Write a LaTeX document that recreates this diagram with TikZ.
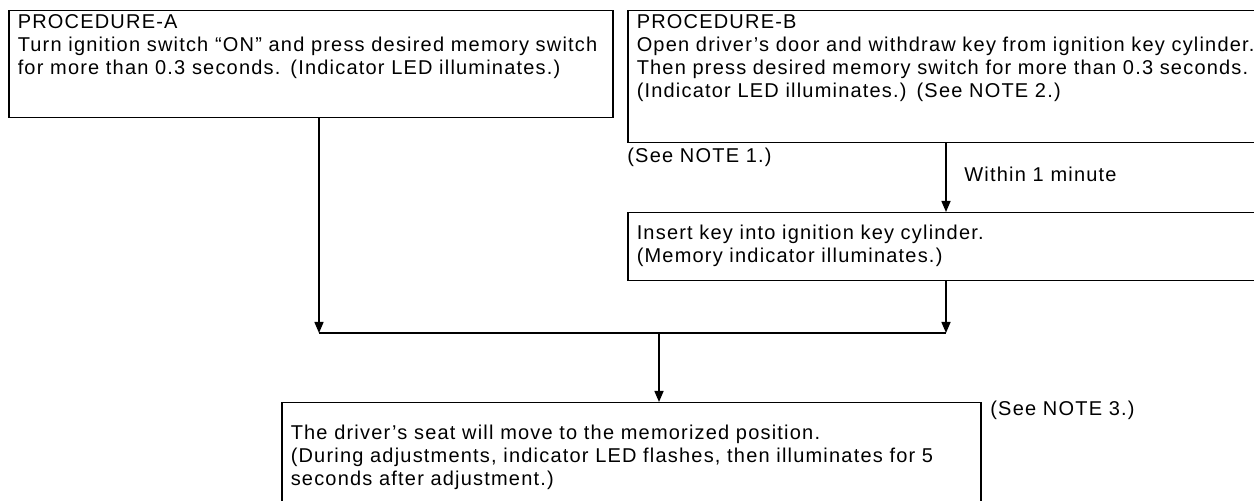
\documentclass[tikz,border=0pt]{standalone}
\usepackage{fontspec}
\setmainfont[LetterSpace=6]{Liberation Sans}
\usetikzlibrary{positioning, calc, arrows.meta}
\tikzset{
    flowbox/.style={draw, line width=0.75pt, anchor=north west, align=left, inner xsep=4.5pt, inner ysep=0pt, font=\fontsize{10}{11.5}\selectfont},
    notetext/.style={anchor=west, inner sep=0pt, font=\fontsize{10}{11.5}\selectfont},
    arrow/.style={-{Triangle[length=5.5pt, width=4.5pt]}, line width=0.75pt},
    joinline/.style={line width=0.75pt},
}
\begin{document}
\begin{tikzpicture}[x=0.5pt, y=-0.5pt]
    \path[use as bounding box, clip] (0,0) rectangle (1254,501);

    % Procedure A
    \node[flowbox, text width=293pt, text height=9pt, text depth=44.5pt] (procA) at (8,10)
        {PROCEDURE-A\\Turn ignition switch “ON” and press desired memory switch\\for more than 0.3 seconds. (Indicator LED illuminates.)};

    % Procedure B
    \node[flowbox, text width=340pt, text height=9pt, text depth=57pt] (procB) at (627,10)
        {PROCEDURE-B\\Open driver’s door and withdraw key from ignition key cylinder.\\Then press desired memory switch for more than 0.3 seconds.\\(Indicator LED illuminates.) (See NOTE 2.)};
    \node[notetext] (note1) at (627,157) {(See NOTE 1.)};
    \node[notetext] (within) at (964,174) {Within 1 minute};

    % Key inserted
    \node[flowbox, text width=340pt, text height=13.5pt, text depth=20.5pt] (insert) at (627,212)
        {Insert key into ignition key cylinder.\\(Memory indicator illuminates.)};

    % Result
    \node[flowbox, text width=340.5pt, text height=18.5pt, text depth=35.5pt] (seat) at (281,402)
        {The driver’s seat will move to the memorized position.\\(During adjustments, indicator LED flashes, then illuminates for 5\\seconds after adjustment.)};
    \node[notetext] (note3) at (990,410) {(See NOTE 3.)};

    % Joining line
    \coordinate (joinA) at (319,333);
    \coordinate (joinB) at (946,333);
    \coordinate (joinM) at (659,333);

    \draw[arrow] (joinA |- procA.south) -- (joinA);
    \draw[arrow] (joinB |- procB.south) -- (joinB |- insert.north);
    \draw[arrow] (joinB |- insert.south) -- (joinB);
    \draw[joinline] (joinA) -- (joinB);
    \draw[arrow] (joinM) -- (joinM |- seat.north);
\end{tikzpicture}
\end{document}
